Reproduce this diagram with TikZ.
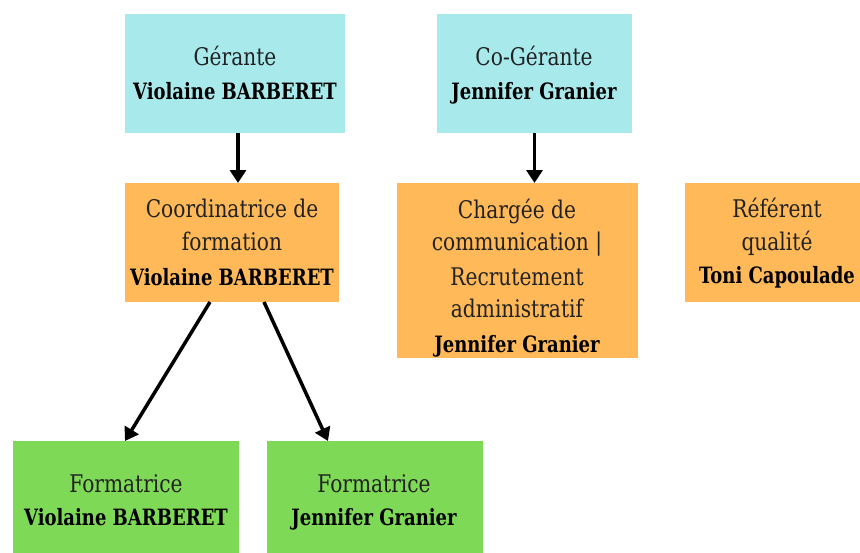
\documentclass[tikz,border=0pt]{standalone}
\usepackage{fontspec}
\setmainfont{DejaVu Serif}[FakeStretch=0.83,BoldFeatures={FakeStretch=0.8}]
\usetikzlibrary{arrows.meta,calc}
\definecolor{cyanbox}{HTML}{A8EAEC}
\definecolor{orangebox}{HTML}{FFB958}
\definecolor{greenbox}{HTML}{7ED957}
\definecolor{txtgray}{HTML}{222222}
\tikzset{
  box/.style={draw=none, inner sep=0pt, outer sep=0pt},
  reg/.style={anchor=base, inner sep=0pt, text=txtgray, font=\fontsize{24.3}{28}\selectfont},
  bld/.style={anchor=base, inner sep=0pt, text=black, font=\fontsize{22.5}{27}\selectfont\bfseries},
  arr/.style={line width=3.5pt, draw=black, -{Triangle[width=16pt,length=13pt]}}
}
\begin{document}
\begin{tikzpicture}[x=1pt,y=-1pt]
\clip (0,0) rectangle (860,552);
\fill[white] (0,0) rectangle (860,552);
% boxes
\node[box, fill=cyanbox, minimum width=220pt, minimum height=119pt] (ger) at (235,73.5) {};
\node[box, fill=cyanbox, minimum width=195pt, minimum height=119pt] (cog) at (534.5,73.5) {};
\node[box, fill=orangebox, minimum width=214pt, minimum height=119pt] (coo) at (232,242.5) {};
\node[box, fill=orangebox, minimum width=241pt, minimum height=175pt] (chg) at (517.5,270.5) {};
\node[box, fill=orangebox, minimum width=184pt, minimum height=119pt] (ref) at (777,242.5) {};
\node[box, fill=greenbox, minimum width=226pt, minimum height=124pt] (fa) at (126,503) {};
\node[box, fill=greenbox, minimum width=216pt, minimum height=124pt] (fb) at (375,503) {};
% texts
\node[reg] (t1) at (235,65) {Gérante};
\node[bld] (t2) at (235,99) {Violaine BARBERET};
\node[reg] (t3) at (534,65) {Co-Gérante};
\node[bld] (t4) at (534,99) {Jennifer Granier};
\node[reg] (t5) at (232,217) {Coordinatrice de};
\node[reg] (t6) at (232,250) {formation};
\node[bld] (t7) at (232,285) {Violaine BARBERET};
\node[reg] (t8) at (517,218) {Chargée de};
\node[reg] (t9) at (517,250) {communication |};
\node[reg] (t10) at (517,285) {Recrutement};
\node[reg] (t11) at (517,317) {administratif};
\node[bld] (t12) at (517,352) {Jennifer Granier};
\node[reg] (t13) at (777,217) {Référent};
\node[reg] (t14) at (777,250) {qualité};
\node[bld] (t15) at (777,283) {Toni Capoulade};
\node[reg] (t16) at (126,492) {Formatrice};
\node[bld] (t17) at (126,525) {Violaine BARBERET};
\node[reg] (t18) at (374,492) {Formatrice};
\node[bld] (t19) at (374,525) {Jennifer Granier};
% arrows
\draw[arr] ([xshift=3pt]ger.south) -- ([xshift=3pt]ger.south |- coo.north);
\draw[arr] (cog.south) -- (cog.south |- chg.north);
\draw[arr] ($(coo.south west)+(85,0)$) -- ($(fa.north west)+(112,0)$);
\draw[arr] ($(coo.south west)+(139,0)$) -- ($(fb.north west)+(61,0)$);
\end{tikzpicture}
\end{document}
